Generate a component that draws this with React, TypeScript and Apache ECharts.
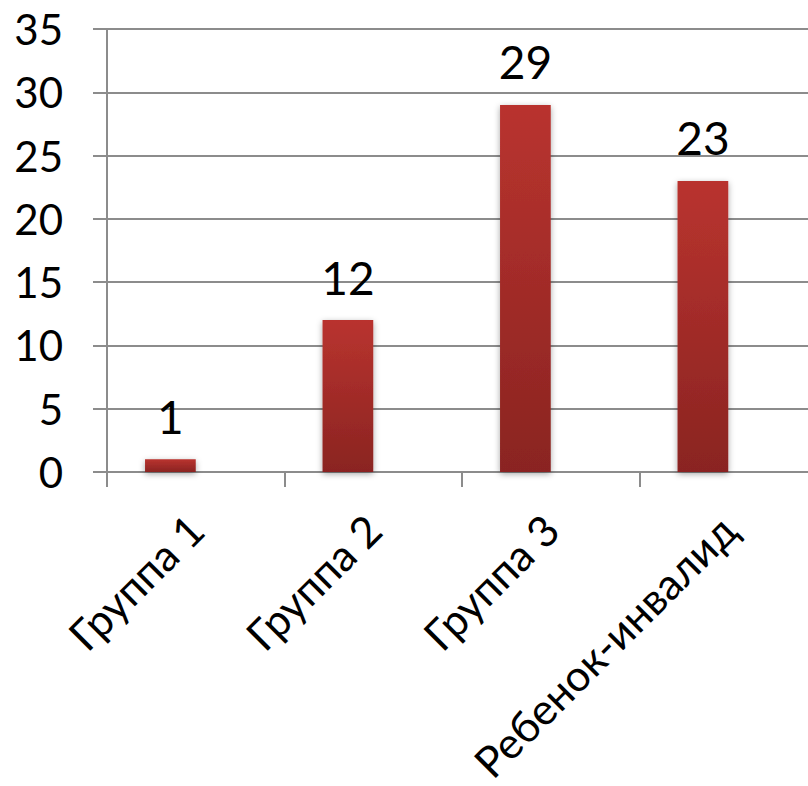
import React, { useEffect, useRef } from "react";
import * as echarts from "echarts";

const categories = ["Группа 1", "Группа 2", "Группа 3", "Ребенок-инвалид"];
const values = [1, 12, 29, 23];
const emptySeries = [null, null, null, null];
const yTicks = { min: 0, max: 35, interval: 5 };

export default function App() {
  const ref = useRef<HTMLDivElement>(null);
  useEffect(() => {
    const chart = echarts.init(ref.current!, null, { renderer: "svg" });
    const font = "Lato, 'Open Sans', sans-serif";
    chart.setOption({
      animation: false,
      grid: {
        left: 107,
        width: 710,
        top: 29,
        height: 443,
        containLabel: false,
        outerBoundsMode: "none",
      },
      xAxis: {
        type: "category",
        data: categories,
        axisLine: { show: true, lineStyle: { color: "#8c8c8c", width: 2 } },
        axisTick: { show: true, length: 15, lineStyle: { color: "#8c8c8c", width: 2 } },
        axisLabel: {
          rotate: 45,
          fontSize: 43,
          color: "#000",
          fontFamily: font,
          margin: 50,
          interval: 0,
        },
      },
      yAxis: {
        type: "value",
        min: yTicks.min,
        max: yTicks.max,
        interval: yTicks.interval,
        axisLine: { show: true, lineStyle: { color: "#8c8c8c", width: 2 } },
        axisTick: { show: true, length: 14, lineStyle: { color: "#8c8c8c", width: 2 } },
        splitLine: { show: true, lineStyle: { color: "#8c8c8c", width: 2 } },
        axisLabel: { fontSize: 42, color: "#000", fontFamily: font, margin: 44 },
      },
      series: [
        {
          type: "bar",
          data: values,
          barGap: "0%",
          barCategoryGap: "42.86%",
          itemStyle: {
            color: new echarts.graphic.LinearGradient(0, 0, 0, 1, [
              { offset: 0, color: "#b9332f" },
              { offset: 1, color: "#8a2421" },
            ]),
            shadowBlur: 6,
            shadowColor: "rgba(0,0,0,0.35)",
            shadowOffsetY: 2,
          },
          label: {
            show: true,
            position: "top",
            distance: 20,
            fontSize: 46,
            color: "#000",
            fontFamily: font,
          },
        },
        {
          type: "bar",
          data: emptySeries,
          barGap: "0%",
          barCategoryGap: "42.86%",
        },
      ],
    });
    return () => chart.dispose();
  }, []);
  return (
    <div
      ref={ref}
      style={{ position: "absolute", left: 0, top: 0, width: 808, height: 786 }}
    />
  );
}
